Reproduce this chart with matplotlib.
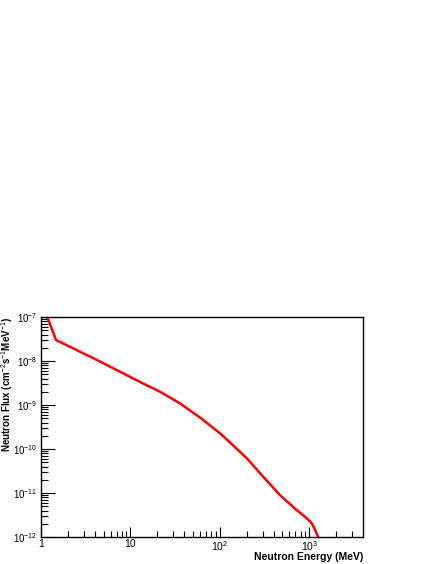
import matplotlib
matplotlib.use("Agg")
import matplotlib.pyplot as plt
from matplotlib.ticker import FixedLocator, NullFormatter

plt.rcParams['font.family'] = ['Liberation Sans', 'DejaVu Sans']
plt.rcParams['mathtext.fontset'] = 'custom'
plt.rcParams['mathtext.rm'] = 'Liberation Sans'
plt.rcParams['mathtext.it'] = 'Liberation Sans:italic'
plt.rcParams['mathtext.bf'] = 'Liberation Sans:bold'

# values
energy = [1.176, 1.47, 4.56, 12.8, 21.4, 35.7, 59.8, 100.0, 129.0, 199.0,
          305.0, 468.0, 719.0, 846.0, 1013.0, 1070.0, 1130.0, 1254.0]
flux = [1e-7, 3.0e-8, 9.75e-9, 3.33e-9, 2.0e-9, 1.09e-9, 5.2e-10, 2.28e-10, 1.42e-10, 6.2e-11,
        2.34e-11, 9.0e-12, 4.11e-12, 3.16e-12, 2.29e-12, 2.0e-12, 1.62e-12, 1e-12]

x_ticks = [1, 10, 100, 1000]
x_labels = ["1", "10", "$10^{2}$", "$10^{3}$"]
y_ticks = [1e-12, 1e-11, 1e-10, 1e-9, 1e-8, 1e-7]
y_labels = ["$10^{-12}$", "$10^{-11}$", "$10^{-10}$", "$10^{-9}$", "$10^{-8}$", "$10^{-7}$"]

fig = plt.figure(figsize=(4.36, 5.64), dpi=100)
ax = fig.add_axes([41 / 436, 27 / 564, 322 / 436, 220 / 564])

ax.plot(energy, flux, color='#ff0000', lw=1.8)

ax.set_xscale('log')
ax.set_yscale('log')
ax.set_xlim(1, 10 ** 3.6)
ax.set_ylim(1e-12, 1e-7)

ax.xaxis.set_major_locator(FixedLocator(x_ticks))
ax.set_xticklabels(x_labels)
ax.xaxis.set_minor_locator(FixedLocator([m * 10 ** d for d in range(4) for m in range(2, 10)]))
ax.xaxis.set_minor_formatter(NullFormatter())
ax.yaxis.set_major_locator(FixedLocator(y_ticks))
ax.set_yticklabels(y_labels)
ax.yaxis.set_minor_locator(FixedLocator([m * 10.0 ** d for d in range(-12, -7) for m in range(2, 10)]))
ax.yaxis.set_minor_formatter(NullFormatter())

ax.tick_params(axis='x', which='major', direction='in', length=7, width=0.8, labelsize=7.5, pad=1.5)
ax.tick_params(axis='x', which='minor', direction='in', length=4, width=0.8)
ax.tick_params(axis='y', which='major', direction='in', length=10, width=0.8, labelsize=7, pad=2.5)
ax.tick_params(axis='y', which='minor', direction='in', length=5, width=0.8)

for s in ax.spines.values():
    s.set_linewidth(1.0)

ax.set_xlabel("Neutron Energy (MeV)", fontsize=7.5, fontweight='bold', ha='right', va='center')
ax.xaxis.set_label_coords(1.0, -20 / 220)
ax.set_ylabel("Neutron Flux (cm$^{-2}$s$^{-1}$MeV$^{-1}$)", fontsize=7,
              fontweight='bold', ha='right', va='center')
ax.yaxis.set_label_coords(-34 / 322, 1.0)

fig.savefig("out.png", dpi=100)
